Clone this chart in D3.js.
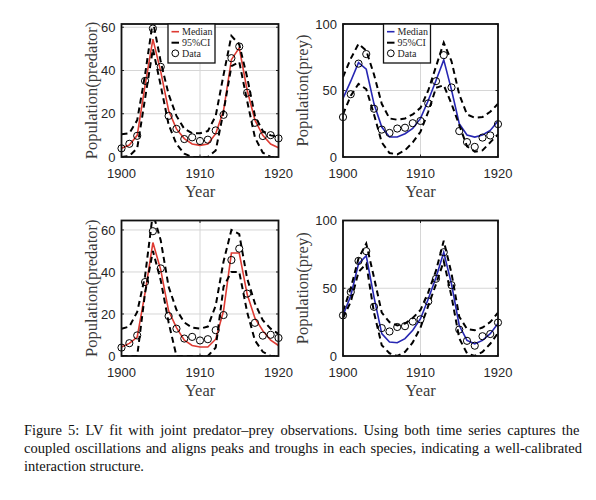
<!DOCTYPE html>
<html lang="en">
<head>
<meta charset="UTF-8">
<title>LV fit with joint predator-prey observations</title>
<script src="https://d3js.org/d3.v7.min.js"></script>
<style>
  body { margin: 0; background: #fff; }
  svg { display: block; }
  .tick-label { font-family: "Liberation Sans", Arial, sans-serif; font-size: 13px; fill: #262626; }
  .axis-label { font-family: "Liberation Serif", "Times New Roman", serif; font-size: 16.5px; fill: #3a3a3a; }
  .legend text { font-family: "Liberation Serif", "Times New Roman", serif; font-size: 10px; fill: #262626; }
  .caption { font-family: "Liberation Serif", "Times New Roman", serif; font-size: 14.5px; fill: #111; }
</style>
</head>
<body>
<script>
// observed years and data (lynx = predator, hare = prey)
const years = [1900, 1901, 1902, 1903, 1904, 1905, 1906, 1907, 1908, 1909, 1910,
               1911, 1912, 1913, 1914, 1915, 1916, 1917, 1918, 1919, 1920];
const predObs = [4, 6.1, 9.8, 35.2, 59.4, 41.7, 19, 13, 8.3, 9.1, 7.4,
                 8, 12.3, 19.5, 45.7, 51.1, 29.7, 15.8, 9.7, 10.1, 8.6];
const preyObs = [30, 47.2, 70.2, 77.4, 36.3, 20.6, 18.1, 21.4, 22, 25.4, 27.1,
                 40.3, 57, 76.6, 52.3, 19.5, 11.2, 7.6, 14.6, 16.2, 24.7];

// top row fit
const predMedA = [4, 5.5, 10, 33, 54.5, 39.5, 21.5, 13, 8.5, 6, 5.4,
                  6, 10.8, 21.5, 45, 50.5, 31, 17, 10, 6, 4.3];
const predUpA  = [10.5, 11, 17, 38, 63, 44, 29, 19, 13, 11, 11,
                  12, 19, 38, 56, 52, 37, 19, 12, 10, 9.5];
const predLoA  = [0, 0.5, 4, 27, 50, 33, 15, 6, 1.5, 0, 0,
                  0, 3, 21, 42, 44, 26, 9, 2, 0, 0];
const preyMedA = [44, 57, 71, 66, 40, 22.5, 15, 15, 17.5, 21.5, 29,
                  42.5, 57.5, 73, 50.5, 25, 16.5, 15, 16.5, 20, 27];
const preyUpA  = [60, 74, 85, 80, 62, 40, 29, 28, 29, 32, 37,
                  50, 68, 86, 72, 47, 32, 29.5, 30, 34, 40];
const preyLoA  = [32, 46, 55, 51, 32, 11, 3, 2, 5, 11, 19,
                  34, 52, 54, 40, 24, 8, 4, 5, 11, 17];

// bottom row fit
const predMedB = [4.3, 6, 9, 30, 54, 41, 21.5, 13.5, 7.5, 5, 4.3,
                  4.3, 8, 21.5, 49, 49, 29.5, 18, 12, 7.5, 5];
const predUpB  = [13, 14, 21, 38, 68, 55, 33, 22, 16, 13.5, 13,
                  14, 24, 45, 60, 58, 37, 25, 17, 13, 10.5];
const predLoB  = [0, 0, 0, 30, 50, 36, 16, 0, 0, 0, 0,
                  0, 4, 33, 40, 40, 21, 7.4, 2, 0, 0];
const preyMedB = [30, 44.5, 68, 74, 43.5, 16.5, 10.3, 9.8, 12.8, 19, 27.5,
                  42, 58, 76.5, 53, 22.5, 11.5, 9, 11.5, 16.5, 24];
const preyUpB  = [33, 50, 72, 83, 58, 32, 25, 22.5, 24, 28, 34,
                  47, 63, 85, 61, 29, 20, 19, 21, 25, 32];
const preyLoB  = [28, 40, 62, 68, 32, 8, 2, 0, 3, 10, 21,
                  37, 53, 70, 44, 13, 2, 0, 3, 9, 17];

const xTicks = [1900, 1910, 1920];
const predTicks = [0, 20, 40, 60];
const preyTicks = [0, 50, 100];
const legendLabels = ["Median", "95%CI", "Data"];

const captionLines = [
  "Figure 5: LV fit with joint predator\u2013prey observations.  Using both time series captures the",
  "coupled oscillations and aligns peaks and troughs in each species, indicating a well-calibrated",
  "interaction structure."
];

const width = 596, height = 500;
const red = "#de3b33", blue = "#2626b2";

const panels = [
  { x: 121.5, y: 24, w: 157, h: 133, yMax: 61.5, ticks: predTicks, obs: predObs,
    med: predMedA, up: predUpA, lo: predLoA, color: red, label: "Population(predator)",
    labelOff: 30, legendX: 46.5 },
  { x: 343, y: 24, w: 155, h: 133, yMax: 100, ticks: preyTicks, obs: preyObs,
    med: preyMedA, up: preyUpA, lo: preyLoA, color: blue, label: "Population(prey)",
    labelOff: 40, legendX: 40.5 },
  { x: 121.5, y: 220.5, w: 157, h: 135.5, yMax: 64.5, ticks: predTicks, obs: predObs,
    med: predMedB, up: predUpB, lo: predLoB, color: red, label: "Population(predator)",
    labelOff: 30 },
  { x: 343, y: 220.5, w: 155, h: 135.5, yMax: 100, ticks: preyTicks, obs: preyObs,
    med: preyMedB, up: preyUpB, lo: preyLoB, color: blue, label: "Population(prey)",
    labelOff: 40 }
];

const svg = d3.select("body").append("svg")
    .attr("width", width)
    .attr("height", height);

svg.append("rect").attr("width", width).attr("height", height).attr("fill", "#fff");

panels.forEach((p, i) => {
  const g = svg.append("g").attr("transform", `translate(${p.x},${p.y})`);
  const x = d3.scaleLinear().domain([1900, 1920]).range([0, p.w]);
  const y = d3.scaleLinear().domain([0, p.yMax]).range([p.h, 0]);

  const clipId = "clip" + i;
  g.append("clipPath").attr("id", clipId)
    .append("rect").attr("width", p.w).attr("height", p.h);

  // grid
  g.append("g").selectAll("line").data(xTicks).join("line")
    .attr("x1", d => x(d)).attr("x2", d => x(d))
    .attr("y1", 0).attr("y2", p.h)
    .attr("stroke", "#d6d6d6").attr("stroke-width", 1);
  g.append("g").selectAll("line").data(p.ticks).join("line")
    .attr("x1", 0).attr("x2", p.w)
    .attr("y1", d => y(d)).attr("y2", d => y(d))
    .attr("stroke", "#d6d6d6").attr("stroke-width", 1);

  const line = vals => d3.line()
    .x((d, k) => x(years[k]))
    .y(d => y(d))(vals);

  const plot = g.append("g").attr("clip-path", `url(#${clipId})`);
  plot.append("path").attr("d", line(p.med))
    .attr("fill", "none").attr("stroke", p.color).attr("stroke-width", 1.6);
  [p.up, p.lo].forEach(ci => {
    plot.append("path").attr("d", line(ci))
      .attr("fill", "none").attr("stroke", "#000")
      .attr("stroke-width", 2).attr("stroke-dasharray", "6,4");
  });

  g.append("g").selectAll("circle").data(p.obs).join("circle")
    .attr("cx", (d, k) => x(years[k]))
    .attr("cy", d => y(d))
    .attr("r", 3.6)
    .attr("fill", "none").attr("stroke", "#000").attr("stroke-width", 1);

  // inward ticks on all sides
  const tl = 2.5;
  const tickG = g.append("g").attr("stroke", "#262626").attr("stroke-width", 1);
  xTicks.forEach(t => {
    tickG.append("line").attr("x1", x(t)).attr("x2", x(t)).attr("y1", p.h).attr("y2", p.h - tl);
    tickG.append("line").attr("x1", x(t)).attr("x2", x(t)).attr("y1", 0).attr("y2", tl);
  });
  p.ticks.forEach(t => {
    tickG.append("line").attr("x1", 0).attr("x2", tl).attr("y1", y(t)).attr("y2", y(t));
    tickG.append("line").attr("x1", p.w).attr("x2", p.w - tl).attr("y1", y(t)).attr("y2", y(t));
  });

  g.append("rect").attr("width", p.w).attr("height", p.h)
    .attr("fill", "none").attr("stroke", "#111").attr("stroke-width", 1.8);

  // tick labels
  g.append("g").selectAll("text").data(xTicks).join("text")
    .attr("class", "tick-label")
    .attr("x", d => x(d)).attr("y", p.h + 21)
    .attr("text-anchor", "middle")
    .text(d => d);
  g.append("g").selectAll("text").data(p.ticks).join("text")
    .attr("class", "tick-label")
    .attr("x", -6).attr("y", d => y(d)).attr("dy", "0.36em")
    .attr("text-anchor", "end")
    .text(d => d);

  // axis labels
  g.append("text").attr("class", "axis-label")
    .attr("x", p.w / 2).attr("y", p.h + 40)
    .attr("text-anchor", "middle")
    .text("Year");
  g.append("text").attr("class", "axis-label")
    .attr("transform", `translate(${-p.labelOff},${p.h / 2}) rotate(-90)`)
    .attr("dy", "0.32em")
    .attr("text-anchor", "middle")
    .text(p.label);

  // legend
  if (p.legendX !== undefined) {
    const lg = g.append("g").attr("class", "legend")
      .attr("transform", `translate(${p.legendX},0)`);
    lg.append("rect").attr("width", 47).attr("height", 39)
      .attr("fill", "#fff").attr("stroke", "#111").attr("stroke-width", 1.3);
    const rows = [7.7, 18.7, 29.3];
    legendLabels.forEach((lab, k) => {
      const ry = rows[k];
      if (k === 0) {
        lg.append("line").attr("x1", 3.5).attr("x2", 11).attr("y1", ry).attr("y2", ry)
          .attr("stroke", p.color).attr("stroke-width", 1.6);
      } else if (k === 1) {
        lg.append("line").attr("x1", 3.5).attr("x2", 11).attr("y1", ry).attr("y2", ry)
          .attr("stroke", "#000").attr("stroke-width", 2);
      } else {
        lg.append("circle").attr("cx", 7.3).attr("cy", ry).attr("r", 3.4)
          .attr("fill", "none").attr("stroke", "#000").attr("stroke-width", 1);
      }
      lg.append("text").attr("x", 14).attr("y", ry).attr("dy", "0.33em").text(lab);
    });
  }
});

// caption, first lines justified
const capLeft = 24, capRight = 582;
const capBase = [435, 453, 470.5];
captionLines.forEach((t, i) => {
  const el = svg.append("text").attr("class", "caption")
    .attr("x", capLeft).attr("y", capBase[i]).text(t);
  if (i < captionLines.length - 1) {
    const spaces = t.split(" ").length - 1;
    const extra = (capRight - capLeft - el.node().getComputedTextLength()) / spaces;
    el.style("word-spacing", extra + "px");
  }
});
</script>
</body>
</html>
